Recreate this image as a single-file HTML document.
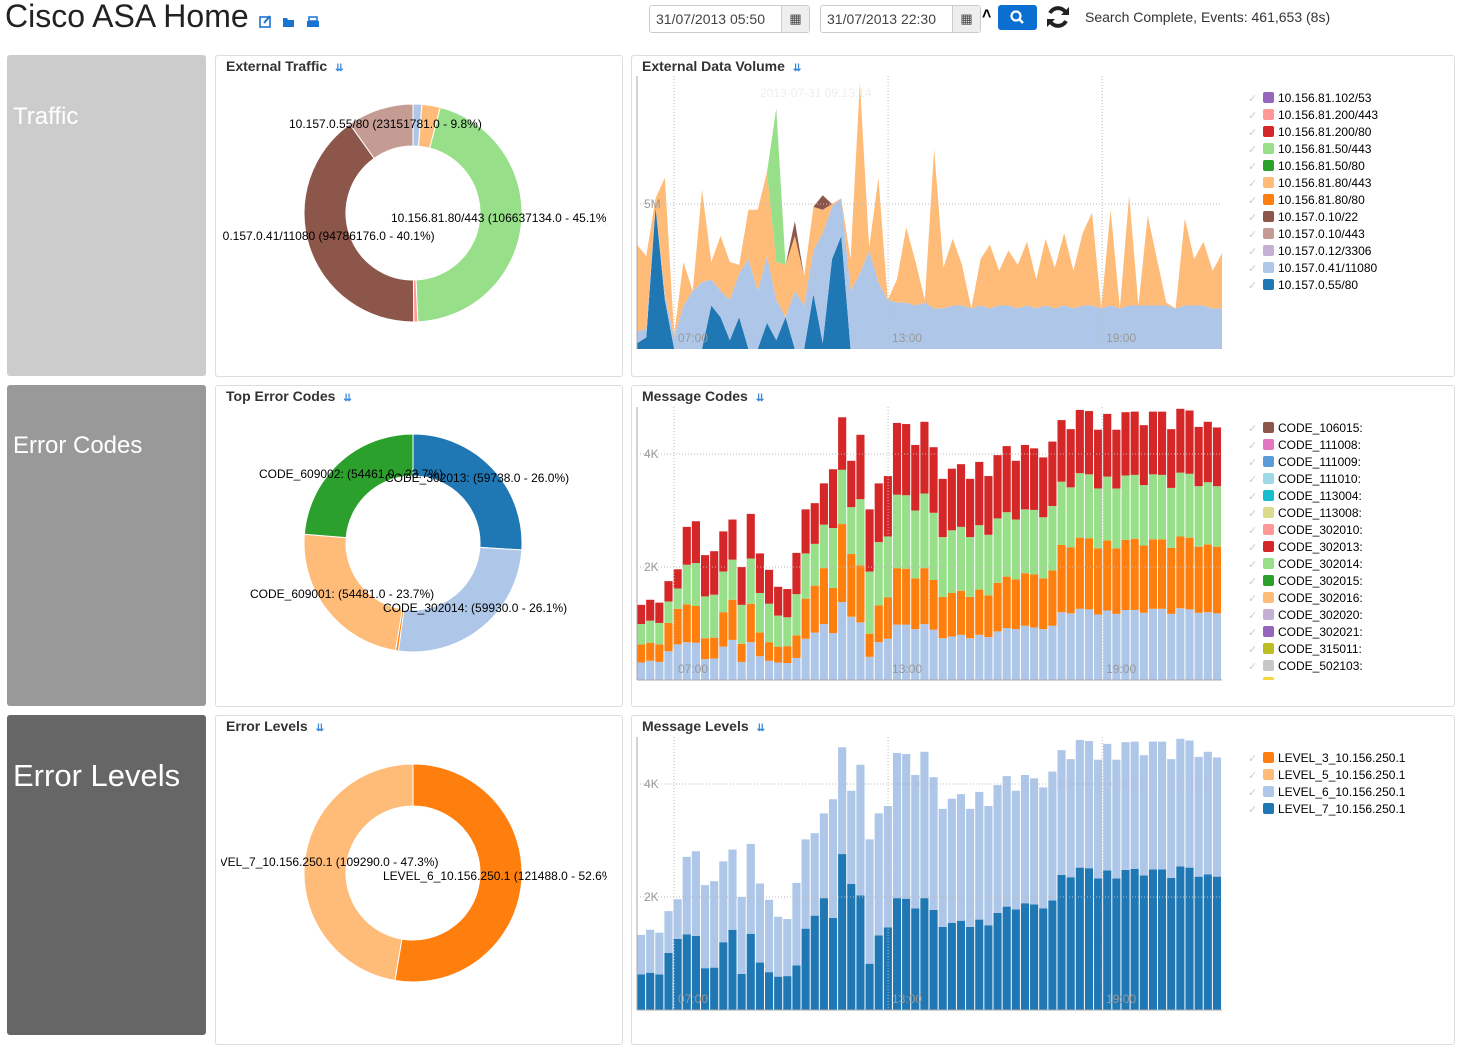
<!DOCTYPE html>
<html><head><meta charset="utf-8">
<style>
body{margin:0;width:1457px;height:1026px;overflow:hidden;background:#fff;font-family:"Liberation Sans",sans-serif;position:relative}
.abs{position:absolute}
.side{position:absolute;left:7px;width:199px;border-radius:3px;color:#fff}
.panel{position:absolute;border:1px solid #ddd;border-radius:3px;background:#fff;box-sizing:border-box}
.ptitle{position:absolute;left:10px;top:2px;font-weight:bold;font-size:14px;color:#333}
.ptitle span{color:#3a87d8;font-size:10px;margin-left:8px;font-weight:bold}
.inp{position:absolute;top:5px;height:28px;border:1px solid #ccc;border-radius:3px;box-sizing:border-box;font-size:14px;color:#444;line-height:26px;padding-left:6px;background:#fff}
.addon{position:absolute;right:0;top:0;width:27px;height:26px;background:#eee;border-left:1px solid #ccc;text-align:center;font-size:13px}
</style></head><body>
<div class="abs" style="left:5px;top:-2px;font-size:32px;color:#222">Cisco ASA Home</div>
<svg class="abs" style="left:258px;top:14px" width="66" height="16">
<g><rect x="2" y="3" width="10" height="10" fill="none" stroke="#1a73d0" stroke-width="1.6"/><path d="M6 9 L12 2" stroke="#1a73d0" stroke-width="2"/></g>
<g><path d="M25 4 h4 l1 2 h6 v7 h-11z" fill="#1a73d0"/></g>
<g><rect x="51" y="3" width="8" height="4" fill="none" stroke="#1a73d0" stroke-width="1.5"/><rect x="49" y="7" width="12" height="6" fill="#1a73d0"/></g>
</svg>
<div class="inp" style="left:649px;width:161px">31/07/2013 05:50<div class="addon">&#9638;</div></div>
<div class="inp" style="left:820px;width:161px">31/07/2013 22:30<div class="addon">&#9638;</div></div>
<div class="abs" style="left:982px;top:6px;font-size:16px;font-weight:bold">&#708;</div>
<svg class="abs" style="left:998px;top:5px" width="39" height="25"><rect width="39" height="25" rx="3" fill="#0a6fd0"/><circle cx="18" cy="11" r="4.5" fill="none" stroke="#fff" stroke-width="2.2"/><path d="M21 14 L25 18" stroke="#fff" stroke-width="2.5"/></svg>
<svg class="abs" style="left:1045px;top:4px" width="26" height="26"><path d="M21 9 A9 9 0 0 0 5 9" fill="none" stroke="#222" stroke-width="4"/><path d="M5 17 A9 9 0 0 0 21 17" fill="none" stroke="#222" stroke-width="4"/><path d="M24 3 v8 h-8z" fill="#222"/><path d="M2 23 v-8 h8z" fill="#222"/></svg>
<div class="abs" style="left:1085px;top:9px;font-size:14px;color:#333">Search Complete, Events: 461,653 (8s)</div>

<div class="side" style="top:55px;height:321px;background:#ccc"><div style="position:absolute;left:6px;top:48px;font-size:24px">Traffic</div></div>
<div class="side" style="top:385px;height:321px;background:#999"><div style="position:absolute;left:6px;top:47px;font-size:24px">Error Codes</div></div>
<div class="side" style="top:715px;height:320px;background:#666"><div style="position:absolute;left:6px;top:43px;font-size:31px">Error Levels</div></div>

<div class="panel" style="left:215px;top:55px;width:408px;height:322px"><div class="ptitle">External Traffic<span>&#8650;</span></div></div>
<div class="panel" style="left:215px;top:385px;width:408px;height:322px"><div class="ptitle">Top Error Codes<span>&#8650;</span></div></div>
<div class="panel" style="left:215px;top:715px;width:408px;height:330px"><div class="ptitle">Error Levels<span>&#8650;</span></div></div>
<div class="panel" style="left:631px;top:55px;width:824px;height:322px"><div class="ptitle">External Data Volume<span>&#8650;</span></div></div>
<div class="panel" style="left:631px;top:385px;width:824px;height:322px"><div class="ptitle">Message Codes<span>&#8650;</span></div></div>
<div class="panel" style="left:631px;top:715px;width:824px;height:330px"><div class="ptitle">Message Levels<span>&#8650;</span></div></div>

<svg id="chart" class="abs" style="left:0;top:0" width="1457" height="1026" font-family="Liberation Sans, sans-serif">
<defs>
<clipPath id="c1"><rect x="222" y="56" width="385" height="320"/></clipPath>
<clipPath id="c2"><rect x="216" y="386" width="406" height="320"/></clipPath>
<clipPath id="c3"><rect x="221" y="716" width="386" height="310"/></clipPath>
<clipPath id="leg2"><rect x="1240" y="410" width="200" height="270"/></clipPath>
</defs>
</svg>
<script>
// ---- pie data ----
const trafficLabels=["10.157.0.41/11080-a","10.156.81.80/443-a","10.156.81.80/443","10.156.81.200/443","10.157.0.41/11080","10.157.0.55/80"];
const trafficValues=[1.3,2.7,45.1,0.6,40.1,9.8];
const trafficColors=["#aec7e8","#ffbb78","#98df8a","#ff9896","#8c564b","#c49c94"];
const errorValues=[26.0,26.1,0.4,23.7,23.7];
const errorColors=["#1f77b4","#aec7e8","#ff7f0e","#ffbb78","#2ca02c"];
const levelPieValues=[52.6,47.3];
const levelPieColors=["#ff7f0e","#ffbb78"];
// ---- area chart data (millions) ----
const volDark=[0.2,0.4,4.9,1.7,0,0,0,0,1.5,1.1,0.3,1.1,0,0,0.9,0.3,1.1,0,0,1.9,0.2,3.1,3.9,0,0,0,0,0,0,0,0,0,0,0,0,0,0,0,0,0,0,0,0,0,0,0,0,0,0,0,0,0,0,0,0,0,0,0,0,0,0,0,0,0];
const volLight=[0.4,0.3,0,0.2,0.4,1.5,2.0,2.3,0.9,0.9,1.4,1.5,3.1,2.0,2.3,1.4,0,2.0,1.5,1.5,3.8,1.8,1.3,2.0,2.6,3.4,2.3,1.7,1.6,1.6,1.5,1.6,1.4,1.4,1.5,1.5,1.4,1.5,1.4,1.5,1.5,1.4,1.5,1.4,1.5,1.4,1.5,1.4,1.5,1.5,1.4,1.5,1.4,1.5,1.5,1.5,1.5,1.5,1.4,1.5,1.5,1.5,1.4,1.4];
const volOrange=[3.0,2.5,0.3,4.0,0.1,1.5,0,3.2,0.6,1.9,1.3,0.3,1.7,2.8,2.9,1.3,1.8,1.9,1.0,1.5,0.8,0.1,0,1.1,6.6,0.1,3.6,0,0.8,2.6,1.5,0.1,5.5,1.4,2.3,1.4,0,1.6,2.2,1.2,1.9,1.5,2.2,1.0,2.3,1.4,2.5,1.3,2.5,3.2,0,3.3,0,3.8,0,3.1,1.6,0.1,0,3.0,1.6,2.2,1.3,1.9];
const volGreen=[0,0,0,0,0,0,0,0,0,0,0,0,0,0,0,5.3,0,0,0,0,0,0,0,0,0,0,0,0,0,0,0,0,0,0,0,0,0,0,0,0,0,0,0,0,0,0,0,0,0,0,0,0,0,0,0,0,0,0,0,0,0,0,0,0];
const volBrown=[0,0,0,0,0,0,0,0,0,0,0,0,0,0,0,0,0,0.5,0,0,0.5,0,0,0,0,0,0,0,0,0,0,0,0,0,0,0,0,0,0,0,0,0,0,0,0,0,0,0,0,0,0,0,0,0,0,0,0,0,0,0,0,0,0,0];
const volTicks=[5];
const timeTicks=["07:00","13:00","19:00"];
const timeTickHours=[7,13,19];
const timeDomain=[5.963,22.36];
// ---- message codes ----
const codeLight=[310,340,320,510,630,670,660,370,380,590,710,320,670,420,340,310,300,390,730,840,990,830,1380,1120,1020,410,670,730,980,980,900,990,890,740,770,800,740,800,760,860,920,900,960,930,900,960,1200,1180,1260,1250,1160,1230,1170,1240,1240,1190,1260,1260,1170,1270,1250,1190,1200,1180];
const codeOrange=[320,320,310,500,630,670,650,370,370,610,710,320,680,420,330,280,300,400,710,830,990,800,1380,1110,1010,410,650,730,1000,990,900,990,880,730,770,780,730,800,740,860,910,880,930,940,900,980,1190,1170,1260,1260,1170,1240,1160,1240,1260,1190,1230,1230,1170,1270,1270,1170,1200,1180];
const codeGreen=[360,390,380,380,360,700,760,740,760,720,710,690,800,700,680,550,510,730,800,740,770,1060,960,830,1170,1100,1120,1080,1300,1300,1200,1320,1190,1060,1110,1130,1060,1140,1070,1140,1140,1060,1130,1140,1080,1140,1120,1060,1140,1130,1060,1130,1060,1140,1130,1070,1150,1140,1060,1130,1130,1070,1100,1070];
const codeRed=[340,370,360,360,340,670,740,730,770,710,710,670,790,700,600,510,500,730,780,720,730,1040,930,820,1140,1100,1040,1070,1270,1260,1160,1270,1160,1030,1090,1110,1030,1120,1040,1120,1170,1040,1140,1090,1060,1140,1090,1030,1120,1120,1040,1110,1040,1120,1120,1060,1110,1120,1040,1130,1120,1050,1070,1040];
const countTicks=[2000,4000];
const countTickLabels=["2K","4K"];
// ---- message levels ----
const level7=[630,660,630,1010,1260,1340,1310,740,750,1200,1420,640,1350,840,670,590,600,790,1440,1670,1980,1630,2760,2230,2030,820,1320,1460,1980,1970,1800,1980,1770,1470,1540,1580,1470,1600,1500,1720,1830,1780,1890,1870,1800,1940,2390,2350,2520,2510,2330,2470,2330,2480,2500,2380,2490,2490,2340,2540,2520,2360,2400,2360];
const level6=[700,760,740,740,700,1370,1500,1470,1530,1430,1420,1360,1590,1400,1280,1060,1010,1460,1580,1460,1500,2100,1890,1650,2310,2200,2160,2150,2570,2560,2360,2590,2350,2090,2200,2240,2090,2260,2110,2260,2310,2100,2270,2230,2140,2280,2210,2090,2260,2250,2100,2240,2100,2260,2250,2130,2260,2260,2100,2260,2250,2120,2170,2110];
// ---- legends ----
const volLegend=["10.156.81.102/53","10.156.81.200/443","10.156.81.200/80","10.156.81.50/443","10.156.81.50/80","10.156.81.80/443","10.156.81.80/80","10.157.0.10/22","10.157.0.10/443","10.157.0.12/3306","10.157.0.41/11080","10.157.0.55/80"];
const volLegendColors=["#9467bd","#ff9896","#d62728","#98df8a","#2ca02c","#ffbb78","#ff7f0e","#8c564b","#c49c94","#c5b0d5","#aec7e8","#1f77b4"];
const codeLegend=["CODE_106015:","CODE_111008:","CODE_111009:","CODE_111010:","CODE_113004:","CODE_113008:","CODE_302010:","CODE_302013:","CODE_302014:","CODE_302015:","CODE_302016:","CODE_302020:","CODE_302021:","CODE_315011:","CODE_502103:",""];
const codeLegendColors=["#8c564b","#e377c2","#5b9bd8","#9edae5","#17becf","#dbdb8d","#ff9896","#d62728","#98df8a","#2ca02c","#ffbb78","#c5b0d5","#9467bd","#bcbd22","#c7c7c7","#f5d63d"];
const levelLegend=["LEVEL_3_10.156.250.1","LEVEL_5_10.156.250.1","LEVEL_6_10.156.250.1","LEVEL_7_10.156.250.1"];
const levelLegendColors=["#ff7f0e","#ffbb78","#aec7e8","#1f77b4"];

const svg=document.getElementById('chart');
const NS='http://www.w3.org/2000/svg';
function mk(tag,attrs,parent){const e=document.createElementNS(NS,tag);for(const k in attrs)e.setAttribute(k,attrs[k]);(parent||svg).appendChild(e);return e;}

// pies
function pie(cx,cy,R,r,vals,cols,name,clip){
  const g=mk('g',{'clip-path':'url(#'+clip+')'});
  const tot=vals.reduce((a,b)=>a+b,0);let a0=0;
  vals.forEach((v,i)=>{
    const a1=a0+v/tot*2*Math.PI;
    const p=(a,rr)=>[cx+rr*Math.sin(a),cy-rr*Math.cos(a)];
    const [x0,y0]=p(a0,R),[x1,y1]=p(a1,R),[x2,y2]=p(a1,r),[x3,y3]=p(a0,r);
    const lg=(a1-a0)>Math.PI?1:0;
    const path=mk('path',{d:`M${x0} ${y0}A${R} ${R} 0 ${lg} 1 ${x1} ${y1}L${x2} ${y2}A${r} ${r} 0 ${lg} 0 ${x3} ${y3}Z`,fill:cols[i],stroke:'#fff','stroke-width':1},g);
    
    
    a0=a1;
  });
  return g;
}
function label(x,y,t,g,name){const e=mk('text',{x:x,y:y,'font-size':12,fill:'#000'},g);e.textContent=t;
 
 }
const g1=pie(413,213,109,67,trafficValues,trafficColors,'traffic','c1');
label(289,128,"10.157.0.55/80 (23151781.0 - 9.8%)",g1,'traffic-label-1');
label(391,222,"10.156.81.80/443 (106637134.0 - 45.1%)",g1,'traffic-label-2');
label(216,240,"10.157.0.41/11080 (94786176.0 - 40.1%)",g1,'traffic-label-3');
const g2=pie(413,543,109,67,errorValues,errorColors,'error-code','c2');
label(259,478,"CODE_609002: (54461.0 - 23.7%)",g2,'error-label-1');
label(385,482,"CODE_302013: (59738.0 - 26.0%)",g2,'error-label-2');
label(250,598,"CODE_609001: (54481.0 - 23.7%)",g2,'error-label-3');
label(383,612,"CODE_302014: (59930.0 - 26.1%)",g2,'error-label-4');
const g3=pie(413,873,109,67,levelPieValues,levelPieColors,'error-level','c3');
label(205,866,"LEVEL_7_10.156.250.1 (109290.0 - 47.3%)",g3,'level-label-1');
label(383,880,"LEVEL_6_10.156.250.1 (121488.0 - 52.6%)",g3,'level-label-2');

// axes helpers
const X0=637,X1=1222;
function tx(h){return X0+(h-timeDomain[0])/(timeDomain[1]-timeDomain[0])*(X1-X0);}
function frame(top,base,yfn,ticks,tlabels,name){
  const g=mk('g',{});
  mk('line',{x1:X0,y1:top,x2:X0,y2:base,stroke:'#aaa'},g);
  ticks.forEach((t,i)=>{const y=yfn(t);
    mk('line',{x1:X0,y1:y,x2:X1,y2:y,stroke:'#bbb','stroke-dasharray':'1,2'},g);
    const e=mk('text',{x:X0+7,y:y+4,'font-size':12,fill:'#999'},g);e.textContent=tlabels[i];});
  timeTickHours.forEach((h,i)=>{const x=tx(h);
    mk('line',{x1:x,y1:top,x2:x,y2:base,stroke:'#bbb','stroke-dasharray':'1,2'},g);
    const e=mk('text',{x:x+4,y:base-7,'font-size':12,fill:'#999'},g);e.textContent=timeTicks[i];});
  return g;
}
// area chart
const yV=v=>349-v*29;
const layers=[[volDark,'#1f77b4'],[volLight,'#aec7e8'],[volOrange,'#ffbb78'],[volGreen,'#98df8a'],[volBrown,'#8c564b']];
const n=volDark.length;const xA=i=>X0+i*(X1-X0)/(n-1);
let cum=new Array(n).fill(0);
const tip=mk('text',{x:760,y:97,'font-size':12,fill:'#eee'});tip.textContent="2013-07-31 09:13:14";


layers.forEach(([arr,col],li)=>{
  const lo=cum.slice();const hi=cum.map((c,i)=>c+arr[i]);
  let d='M'+hi.map((v,i)=>xA(i)+' '+yV(v)).join('L');
  for(let i=n-1;i>=0;i--)d+='L'+xA(i)+' '+yV(lo[i]);
  const p=mk('path',{d:d+'Z',fill:col});
  
  
  cum=hi;
});
frame(76,349,yV,volTicks,["5M"],'volume');
// bar charts
function bars(series,cols,yfn,name){
  const m=series[0].length;const bw=(X1-X0)/m;
  for(let i=0;i<m;i++){let c=0;
    series.forEach((s,si)=>{const y0=yfn(c),y1=yfn(c+s[i]);
      const r=mk('rect',{x:X0+i*bw,y:y1,width:bw-1,height:y0-y1,fill:cols[si]});
      
      
      c+=s[i];});}
}
const yC=v=>680-v*0.0565;
bars([codeLight,codeOrange,codeGreen,codeRed],['#aec7e8','#ff7f0e','#98df8a','#d62728'],yC,'message-codes');
frame(407,680,yC,countTicks,countTickLabels,'message-codes');
mk('line',{x1:X0,y1:680,x2:X1,y2:680,stroke:'#aaa'});
const yL=v=>1010-v*0.0565;
bars([level7,level6],['#1f77b4','#aec7e8'],yL,'message-levels');
frame(737,1010,yL,countTicks,countTickLabels,'message-levels');
mk('line',{x1:X0,y1:1010,x2:X1,y2:1010,stroke:'#aaa'});
// legends
function legend(items,cols,y0,name,clip){
  const g=mk('g',clip?{'clip-path':'url(#'+clip+')'}:{});
  items.forEach((t,i)=>{const y=y0+i*17;
    const it=mk('g',{},g);
    
    
    const ck=mk('text',{x:1248,y:y+4,'font-size':11,fill:'#ccc'},it);ck.textContent='\u2713';
    mk('rect',{x:1263,y:y-6,width:11,height:11,rx:2,fill:cols[i]},it);
    const e=mk('text',{x:1278,y:y+4,'font-size':12,fill:'#000'},it);e.textContent=t;});
}
legend(volLegend,volLegendColors,98,'volume');
legend(codeLegend,codeLegendColors,428,'codes','leg2');
legend(levelLegend,levelLegendColors,758,'levels');
</script>
</body></html>
